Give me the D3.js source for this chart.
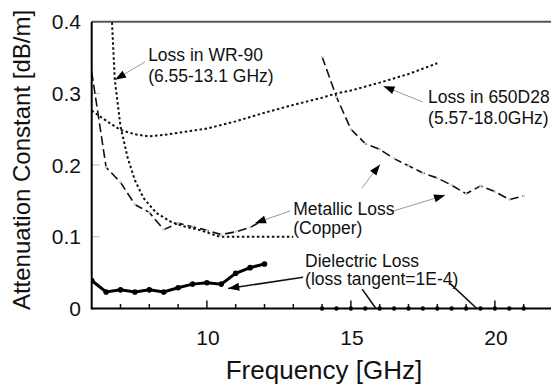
<!DOCTYPE html>
<html>
<head>
<meta charset="utf-8">
<script src="https://cdn.jsdelivr.net/npm/d3@7"></script>
<style>
  body { margin: 0; background: #fff; }
  svg { display: block; font-family: "Liberation Sans", Arial, sans-serif; }
</style>
</head>
<body>
<svg id="chart" width="551" height="385"></svg>
<script>
// frequencies in GHz, attenuation in dB/m
const xTicks = [7, 8, 9, 10, 11, 12, 13, 14, 15, 16, 17, 18, 19, 20, 21]
const xLabels = [10, 15, 20]
const yLabels = [0, 0.1, 0.2, 0.3, 0.4]

const wr90Freq = [6.68, 6.8, 7.0, 7.25, 7.5, 7.8, 8.25, 8.75, 9.25, 9.8, 10.45, 11, 11.5, 12, 12.5, 13]
const wr90Loss = [0.42, 0.32, 0.254, 0.21, 0.179, 0.154, 0.133, 0.121, 0.114, 0.109, 0.1, 0.1, 0.1, 0.1, 0.1, 0.1]

const d28Freq = [6, 6.5, 7, 7.5, 8, 8.5, 9, 9.5, 10, 10.5, 11, 11.5, 12, 13, 14, 14.5, 15, 16, 17, 18]
const d28Loss = [0.276, 0.262, 0.249, 0.243, 0.24, 0.242, 0.245, 0.248, 0.251, 0.256, 0.261, 0.267, 0.273, 0.284, 0.294, 0.3, 0.304, 0.315, 0.327, 0.342]

const metalFreqA = [6, 6.5, 7, 7.5, 8, 8.5, 9, 9.5, 10, 10.5, 11, 11.5, 12]
const metalLossA = [0.33, 0.197, 0.176, 0.145, 0.134, 0.11, 0.119, 0.114, 0.109, 0.103, 0.107, 0.113, 0.124]
const metalFreqB = [14, 14.5, 15, 15.5, 16, 16.5, 17, 17.5, 18, 18.5, 19, 19.5, 20, 20.5, 21]
const metalLossB = [0.351, 0.295, 0.25, 0.23, 0.222, 0.209, 0.199, 0.189, 0.182, 0.172, 0.16, 0.171, 0.163, 0.152, 0.157]

const dielFreqA = [6, 6.5, 7, 7.5, 8, 8.5, 9, 9.5, 10, 10.5, 11, 11.5, 12]
const dielLossA = [0.039, 0.023, 0.026, 0.023, 0.026, 0.023, 0.029, 0.034, 0.036, 0.034, 0.049, 0.057, 0.062]
const dielFreqB = [14, 14.5, 15, 15.5, 16, 16.5, 17, 17.5, 18, 18.5, 19, 19.5, 20, 20.5, 21]
const dielLossB = [0, 0, 0, 0, 0, 0, 0, 0, 0, 0, 0, 0, 0, 0, 0]

// labels placed in data units: [freq, value]
const notes = [
  {lines: ["Loss in WR-90", "(6.55-13.1 GHz)"], at: [7.96, 0.345], step: 0.029},
  {lines: ["Loss in 650D28", "(5.57-18.0GHz)"], at: [17.68, 0.286], step: 0.028},
  {lines: ["Metallic Loss", "(Copper)"], at: [13.0, 0.13], step: 0.0255},
  {lines: ["Dielectric Loss", "(loss tangent=1E-4)"], at: [13.41, 0.058], step: 0.0255}
]
const pointers = [
  {from: [7.85, 0.344], to: [6.81, 0.319], head: true, dark: false},
  {from: [17.5, 0.288], to: [16.13, 0.31], head: true, dark: false},
  {from: [12.89, 0.136], to: [11.67, 0.119], head: true, dark: false},
  {from: [15.38, 0.168], to: [16.01, 0.201], head: true, dark: false},
  {from: [16.39, 0.135], to: [18.27, 0.158], head: true, dark: false},
  {from: [13.34, 0.0435], to: [10.74, 0.028], head: true, dark: true},
  {from: [15.39, 0.027], to: [15.87, 0], head: false, dark: true},
  {from: [18.44, 0.035], to: [19.37, 0], head: false, dark: true}
]

const svg = d3.select('#chart')

const x = d3.scaleLinear().domain([6, 22]).range([91.7, 552.5])
const y = d3.scaleLinear().domain([0, 0.4]).range([308.5, 21.7])

svg.append('defs').append('clipPath').attr('id', 'plot')
  .append('rect')
  .attr('x', x(6)).attr('y', y(0.4))
  .attr('width', x(22) - x(6)).attr('height', y(0) - y(0.4))

const pairs = (fs, vs) => fs.map((f, i) => [f, vs[i]])
const line = d3.line().x(d => x(d[0])).y(d => y(d[1]))

// frame
svg.append('line')
  .attr('x1', x(6)).attr('x2', x(22)).attr('y1', y(0.4)).attr('y2', y(0.4))
  .attr('stroke', '#555').attr('stroke-width', 2)

// y ticks, light grey, inside
svg.selectAll('.ytick').data([0.1, 0.2, 0.3]).enter().append('line')
  .attr('class', 'ytick')
  .attr('x1', x(6)).attr('x2', x(6) + 8)
  .attr('y1', d => y(d)).attr('y2', d => y(d))
  .attr('stroke', '#bbb').attr('stroke-width', 1)

// x ticks pointing up
svg.selectAll('.xtick').data(xTicks).enter().append('line')
  .attr('class', 'xtick')
  .attr('x1', d => x(d)).attr('x2', d => x(d))
  .attr('y1', y(0)).attr('y2', d => y(0) - (xLabels.includes(d) ? 8 : 4.5))
  .attr('stroke', '#111').attr('stroke-width', 1.5)

const g = svg.append('g').attr('clip-path', 'url(#plot)')

g.append('path').datum(pairs(wr90Freq, wr90Loss))
  .attr('d', line).attr('fill', 'none')
  .attr('stroke', '#111').attr('stroke-width', 2).attr('stroke-dasharray', '2.5,2.5')

g.append('path').datum(pairs(d28Freq, d28Loss))
  .attr('d', line).attr('fill', 'none')
  .attr('stroke', '#111').attr('stroke-width', 2).attr('stroke-dasharray', '2.5,2.5')

;[pairs(metalFreqA, metalLossA), pairs(metalFreqB, metalLossB)].forEach((pts) => {
  g.append('path').datum(pts)
    .attr('d', line).attr('fill', 'none')
    .attr('stroke', '#111').attr('stroke-width', 1.6).attr('stroke-dasharray', '9,4')
  g.selectAll(null).data(pts).enter().append('circle')
    .attr('cx', d => x(d[0])).attr('cy', d => y(d[1])).attr('r', 1.3)
    .attr('fill', '#ccc')
})

g.append('path').datum(pairs(dielFreqA, dielLossA))
  .attr('d', line).attr('fill', 'none')
  .attr('stroke', '#000').attr('stroke-width', 3)
g.selectAll('.dotA').data(pairs(dielFreqA, dielLossA)).enter().append('circle')
  .attr('class', 'dotA')
  .attr('cx', d => x(d[0])).attr('cy', d => y(d[1])).attr('r', 2.8)
  .attr('fill', '#000')

// axes on top of the curves
svg.append('line')
  .attr('x1', x(6)).attr('x2', x(6)).attr('y1', y(0.4)).attr('y2', y(0) + 1)
  .attr('stroke', '#000').attr('stroke-width', 2)
svg.append('line')
  .attr('x1', x(6)).attr('x2', x(22)).attr('y1', y(0)).attr('y2', y(0))
  .attr('stroke', '#000').attr('stroke-width', 2)

svg.selectAll('.dotB').data(pairs(dielFreqB, dielLossB)).enter().append('circle')
  .attr('class', 'dotB')
  .attr('cx', d => x(d[0])).attr('cy', d => y(d[1])).attr('r', 2.2)
  .attr('fill', '#000')

// tick labels
svg.selectAll('.ylab').data(yLabels).enter().append('text')
  .attr('class', 'ylab')
  .attr('x', 81).attr('y', d => y(d) + 7.5)
  .attr('text-anchor', 'end').attr('font-size', 21).attr('fill', '#111')
  .text(d => d === 0 ? '0' : d3.format('.1f')(d))

svg.selectAll('.xlab').data(xLabels).enter().append('text')
  .attr('class', 'xlab')
  .attr('x', d => x(d) + 1).attr('y', 345)
  .attr('text-anchor', 'middle').attr('font-size', 21).attr('fill', '#111')
  .text(d => d)

svg.append('text')
  .attr('x', 324).attr('y', 379)
  .attr('text-anchor', 'middle').attr('font-size', 26).attr('fill', '#111')
  .text('Frequency [GHz]')

svg.append('text')
  .attr('transform', 'translate(30,160) rotate(-90)')
  .attr('text-anchor', 'middle').attr('font-size', 24).attr('fill', '#111')
  .text('Attenuation Constant [dB/m]')

// annotations
pointers.forEach((p) => {
  const x1 = x(p.from[0]), y1 = y(p.from[1]), x2 = x(p.to[0]), y2 = y(p.to[1])
  const col = p.dark ? '#111' : '#999'
  svg.append('line')
    .attr('x1', x1).attr('y1', y1).attr('x2', x2).attr('y2', y2)
    .attr('stroke', col).attr('stroke-width', p.dark ? 1.6 : 1)
  if (p.head) {
    const ang = Math.atan2(y2 - y1, x2 - x1)
    const len = 11, half = 4
    const bx = x2 - len * Math.cos(ang), by = y2 - len * Math.sin(ang)
    const pts = [
      [x2, y2],
      [bx + half * Math.sin(ang), by - half * Math.cos(ang)],
      [bx - half * Math.sin(ang), by + half * Math.cos(ang)]
    ]
    svg.append('polygon')
      .attr('points', pts.map(q => q.join(',')).join(' '))
      .attr('fill', '#000')
  }
})

notes.forEach((n) => {
  n.lines.forEach((t, i) => {
    svg.append('text')
      .attr('x', x(n.at[0])).attr('y', y(n.at[1] - i * n.step))
      .attr('font-size', 17.5).attr('fill', '#111')
      .text(t)
  })
})
</script>
</body>
</html>
